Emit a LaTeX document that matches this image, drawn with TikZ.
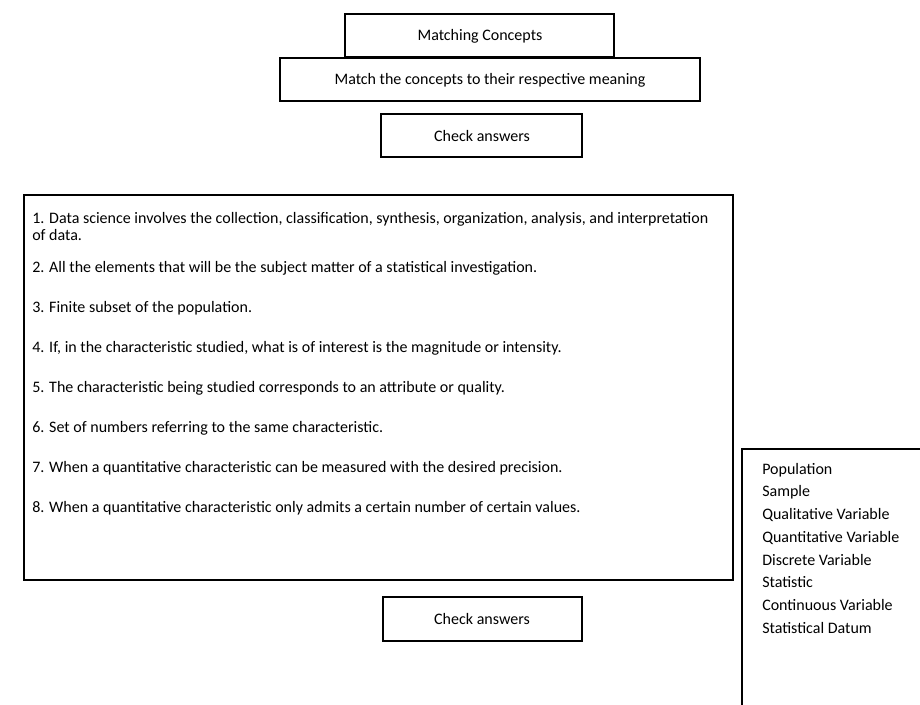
\documentclass[tikz,border=0pt]{standalone}
\usepackage{fontspec}
\setmainfont{Carlito}
\begin{document}
\begin{tikzpicture}[x=0.75pt,y=-0.75pt,
  frame/.style={draw=black,line width=1.3pt},
  btxt/.style={font=\fontsize{12}{14}\selectfont,inner sep=0pt},
  item/.style={font=\fontsize{12}{12.75}\selectfont,inner sep=0pt,anchor=west,align=left},
  ritem/.style={font=\fontsize{12}{14}\selectfont,inner sep=0pt,anchor=west}]
\useasboundingbox (0,0) rectangle (920,704);
% top boxes
\draw[frame] (345,14) rectangle (614,57);
\node[btxt] (title) at (480,36) {Matching Concepts};
\draw[frame] (280,58) rectangle (700,101);
\node[btxt] (instr) at (490,80) {Match the concepts to their respective meaning};
\draw[frame] (381,114) rectangle (582,157);
\node[btxt] (check1) at (482,136) {Check answers};
% big box
\draw[frame] (24,195) rectangle (733,580);
\node[item] (i1) at (32,226.5) {1. Data science involves the collection, classification, synthesis, organization, analysis, and interpretation\\of data.};
\node[item] (i2) at (32,268) {2. All the elements that will be the subject matter of a statistical investigation.};
\node[item] (i3) at (32,308) {3. Finite subset of the population.};
\node[item] (i4) at (32,348) {4. If, in the characteristic studied, what is of interest is the magnitude or intensity.};
\node[item] (i5) at (32,388) {5. The characteristic being studied corresponds to an attribute or quality.};
\node[item] (i6) at (32,428) {6. Set of numbers referring to the same characteristic.};
\node[item] (i7) at (32,468) {7. When a quantitative characteristic can be measured with the desired precision.};
\node[item] (i8) at (32,508) {8. When a quantitative characteristic only admits a certain number of certain values.};
% bottom check
\draw[frame] (383,597) rectangle (582,641);
\node[btxt] (check2) at (482,619) {Check answers};
% right box (runs off the page at right and bottom)
\draw[frame] (742,720) -- (742,449) -- (930,449);
\node[ritem] (r1) at (762,470) {Population};
\node[ritem] (r2) at (762,492.5) {Sample};
\node[ritem] (r3) at (762,515) {Qualitative Variable};
\node[ritem] (r4) at (762,537.5) {Quantitative Variable};
\node[ritem] (r5) at (762,560) {Discrete Variable};
\node[ritem] (r6) at (762,582.5) {Statistic};
\node[ritem] (r7) at (762,605) {Continuous Variable};
\node[ritem] (r8) at (762,627.5) {Statistical Datum};
\end{tikzpicture}
\end{document}
